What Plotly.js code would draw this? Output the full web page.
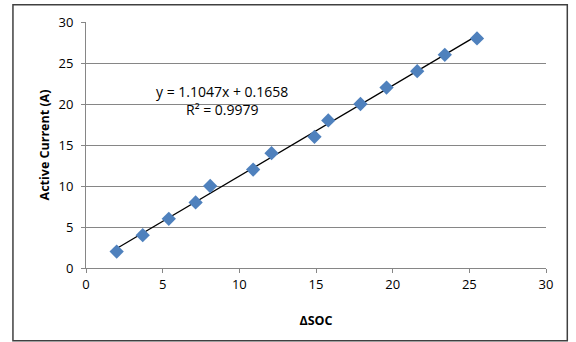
<!DOCTYPE html>
<html>
<head>
<meta charset="utf-8">
<script src="https://cdn.plot.ly/plotly-3.0.1.min.js"></script>
<style>html,body{margin:0;padding:0;background:#fff;}#chart{width:576px;height:342px;}</style>
</head>
<body>
<div id="chart"></div>
<script>
const deltaSOC = [2.0, 3.7, 5.4, 7.15, 8.1, 10.9, 12.1, 14.9, 15.8, 17.9, 19.6, 21.6, 23.4, 25.5];
const activeCurrent = [2, 4, 6, 8, 10, 12, 14, 16, 18, 20, 22, 24, 26, 28];
const slope = 1.1047;
const intercept = 0.1658;
const rSquared = 0.9979;
const tickVals = [0, 5, 10, 15, 20, 25, 30];

const xMin = Math.min(...deltaSOC), xMax = Math.max(...deltaSOC);
const trendX = [xMin, xMax];
const trendY = trendX.map(x => slope * x + intercept);

const font = "Open Sans, Liberation Sans, sans-serif";

const data = [
  {x: trendX, y: trendY, type: 'scatter', mode: 'lines',
   line: {color: '#000000', width: 1.3}, hoverinfo: 'skip'},
  {x: deltaSOC, y: activeCurrent, type: 'scatter', mode: 'markers',
   marker: {symbol: 'diamond', size: 11, color: '#4F81BD'}}
];

const layout = {
  width: 576, height: 342,
  margin: {l: 86, r: 30.3, t: 22.3, b: 73.7, pad: 0},
  paper_bgcolor: '#ffffff', plot_bgcolor: '#ffffff',
  showlegend: false,
  font: {family: font, size: 13, color: '#000'},
  xaxis: {
    range: [0, 30], tickvals: tickVals, ticktext: tickVals.map(String),
    showgrid: false, zeroline: false, showline: true, linecolor: '#868686', linewidth: 1,
    ticks: 'outside', ticklen: 4, tickcolor: '#868686',
    tickfont: {family: font, size: 13, color: '#000'},
    title: {text: '<b>ΔSOC</b>', font: {family: font, size: 12.5, color: '#000'}, standoff: 24}
  },
  yaxis: {
    range: [0, 30], tickvals: tickVals, ticktext: tickVals.map(String),
    showgrid: true, gridcolor: '#868686', gridwidth: 1,
    zeroline: false, showline: true, linecolor: '#868686', linewidth: 1,
    ticks: 'outside', ticklen: 4, tickcolor: '#868686',
    tickfont: {family: font, size: 13, color: '#000'},
    ticklabelstandoff: 5,
    title: {text: '<b>Active Current (A)</b>', font: {family: font, size: 12.5, color: '#000'}, standoff: 6}
  },
  annotations: [
    {x: 8.9, y: 21.5, xref: 'x', yref: 'y', showarrow: false,
     text: 'y = ' + slope.toFixed(4) + 'x + ' + intercept.toFixed(4),
     font: {family: font, size: 14, color: '#000'}},
    {x: 8.9, y: 19.3, xref: 'x', yref: 'y', showarrow: false,
     text: 'R² = ' + rSquared.toFixed(4),
     font: {family: font, size: 14, color: '#000'}}
  ],
  shapes: [
    {type: 'rect', xref: 'paper', yref: 'paper',
     x0: -0.1588, x1: 1.0463, y0: -0.2955, y1: 1.0703,
     line: {color: '#404040', width: 1.5}, fillcolor: 'rgba(0,0,0,0)'}
  ]
};

Plotly.newPlot('chart', data, layout, {displayModeBar: false, staticPlot: true});
</script>
</body>
</html>
